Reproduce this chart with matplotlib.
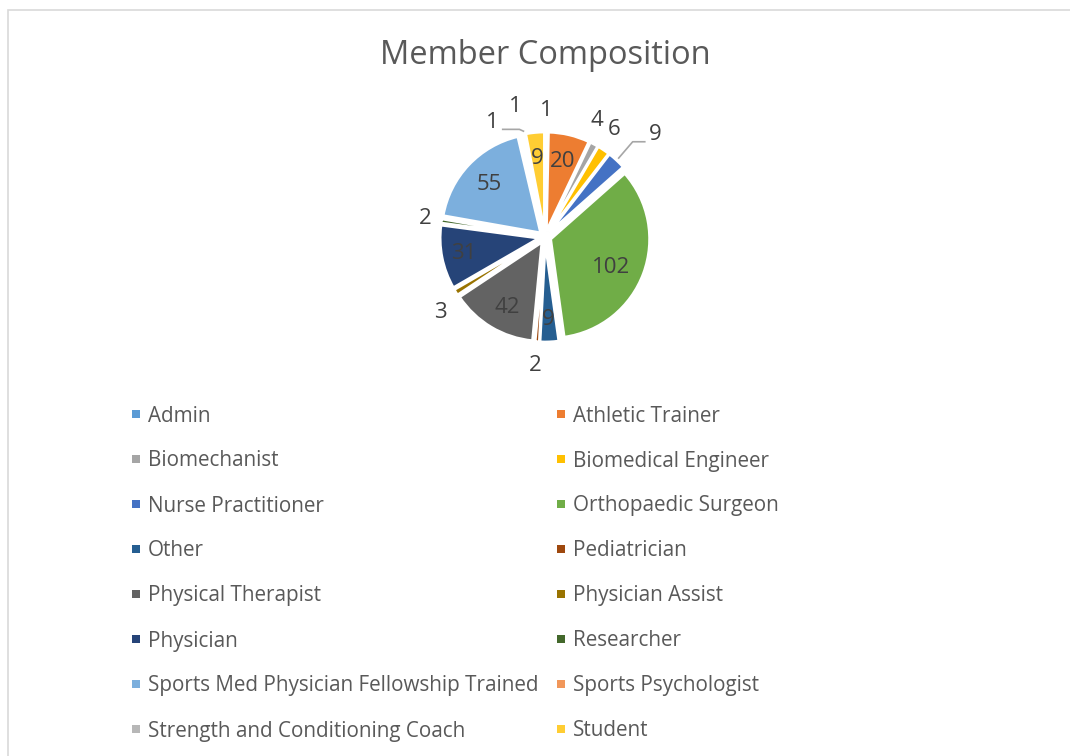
import numpy as np
import matplotlib
matplotlib.use("Agg")
import matplotlib.pyplot as plt
from matplotlib.patches import Rectangle

plt.rcParams["font.family"] = ["Open Sans", "DejaVu Sans"]

# data
categories = [
    "Admin", "Athletic Trainer", "Biomechanist", "Biomedical Engineer",
    "Nurse Practitioner", "Orthopaedic Surgeon", "Other", "Pediatrician",
    "Physical Therapist", "Physician Assist", "Physician", "Researcher",
    "Sports Med Physician Fellowship Trained", "Sports Psychologist",
    "Strength and Conditioning Coach", "Student",
]
counts = [1, 20, 4, 6, 9, 102, 9, 2, 42, 3, 31, 2, 55, 1, 1, 9]

colors = [
    "#5B9BD5", "#ED7D31", "#A5A5A5", "#FFC000", "#4472C4", "#70AD47",
    "#255E91", "#9E480E", "#636363", "#997300", "#264478", "#43682B",
    "#7CAFDD", "#F1975A", "#B7B7B7", "#FFCD33",
]

# label placement (radius in pie units, angle nudge in degrees)
label_r = [1.27, 0.78, 1.27, 1.28, 1.5, 0.73, 0.83, 1.29, 0.80, 1.29,
           0.83, 1.21, 0.77, 1.34, 1.26, 0.79]
label_shift = [0, 0, -4, -1, 4, 4, 0, 0, -3, -4, 0, 0, 0, 0, -13, 0]
leader = [4, 14]

W, H = 1070, 756
fig = plt.figure(figsize=(W / 100, H / 100), dpi=100)

# chart border
fig.patches.append(Rectangle((8 / W, -0.1), 2.0, 1 - 10 / H + 0.1,
                             transform=fig.transFigure, fill=False,
                             edgecolor="#D9D9D9", linewidth=1.2))

fig.text(545 / W, 1 - 55 / H, "Member Composition", ha="center",
         va="center", fontsize=23.5, color="#595959")

# pie axes, 100 px per unit
cx, cy, half = 545, 237, 160
ax = fig.add_axes([(cx - half) / W, 1 - (cy + half) / H,
                   2 * half / W, 2 * half / H])

wedges, _ = ax.pie(counts, colors=colors, startangle=90, counterclock=False,
                   explode=[0.06] * len(counts), radius=0.99,
                   wedgeprops=dict(edgecolor="white", linewidth=2.0))
ax.set_xlim(-1.6, 1.6)
ax.set_ylim(-1.6, 1.6)
ax.set_aspect("equal")
ax.axis("off")

total = sum(counts)
cum = np.cumsum([0] + counts[:-1])
for i, v in enumerate(counts):
    mid = (cum[i] + v / 2) / total * 360  # clockwise from top
    ang = np.deg2rad(90 - mid - label_shift[i])
    lx, ly = label_r[i] * np.cos(ang), label_r[i] * np.sin(ang)
    ax.text(lx, ly, str(v), ha="center", va="center", fontsize=16,
            color="#404040")
    if i in leader:
        a0 = np.deg2rad(90 - mid)
        ex, ey = 1.08 * np.cos(a0), 1.08 * np.sin(a0)
        if lx > 0:
            xs = [ex, ex + 0.14, lx - 0.1]
            ys = [ey, ly - 0.07, ly - 0.07]
        else:
            xs = [ex, ex - 0.04, lx + 0.1]
            ys = [ey, ly - 0.07, ly - 0.07]
        ax.plot(xs, ys, color="#A6A6A6", linewidth=1.2)

# legend, two columns filled row-wise
col_x = [132, 557]
row0, row_gap = 416, 45
for i, (name, c) in enumerate(zip(categories, colors)):
    r, k = divmod(i, 2)
    x, y = col_x[k], row0 + r * row_gap
    fig.patches.append(Rectangle((x / W, 1 - (y + 2) / H), 8 / W, 8 / H,
                                 transform=fig.transFigure, facecolor=c,
                                 edgecolor="none"))
    fig.text((x + 16) / W, 1 - y / H, name, ha="left", va="center",
             fontsize=14.9, color="#595959")

fig.savefig("out.png", dpi=100)
